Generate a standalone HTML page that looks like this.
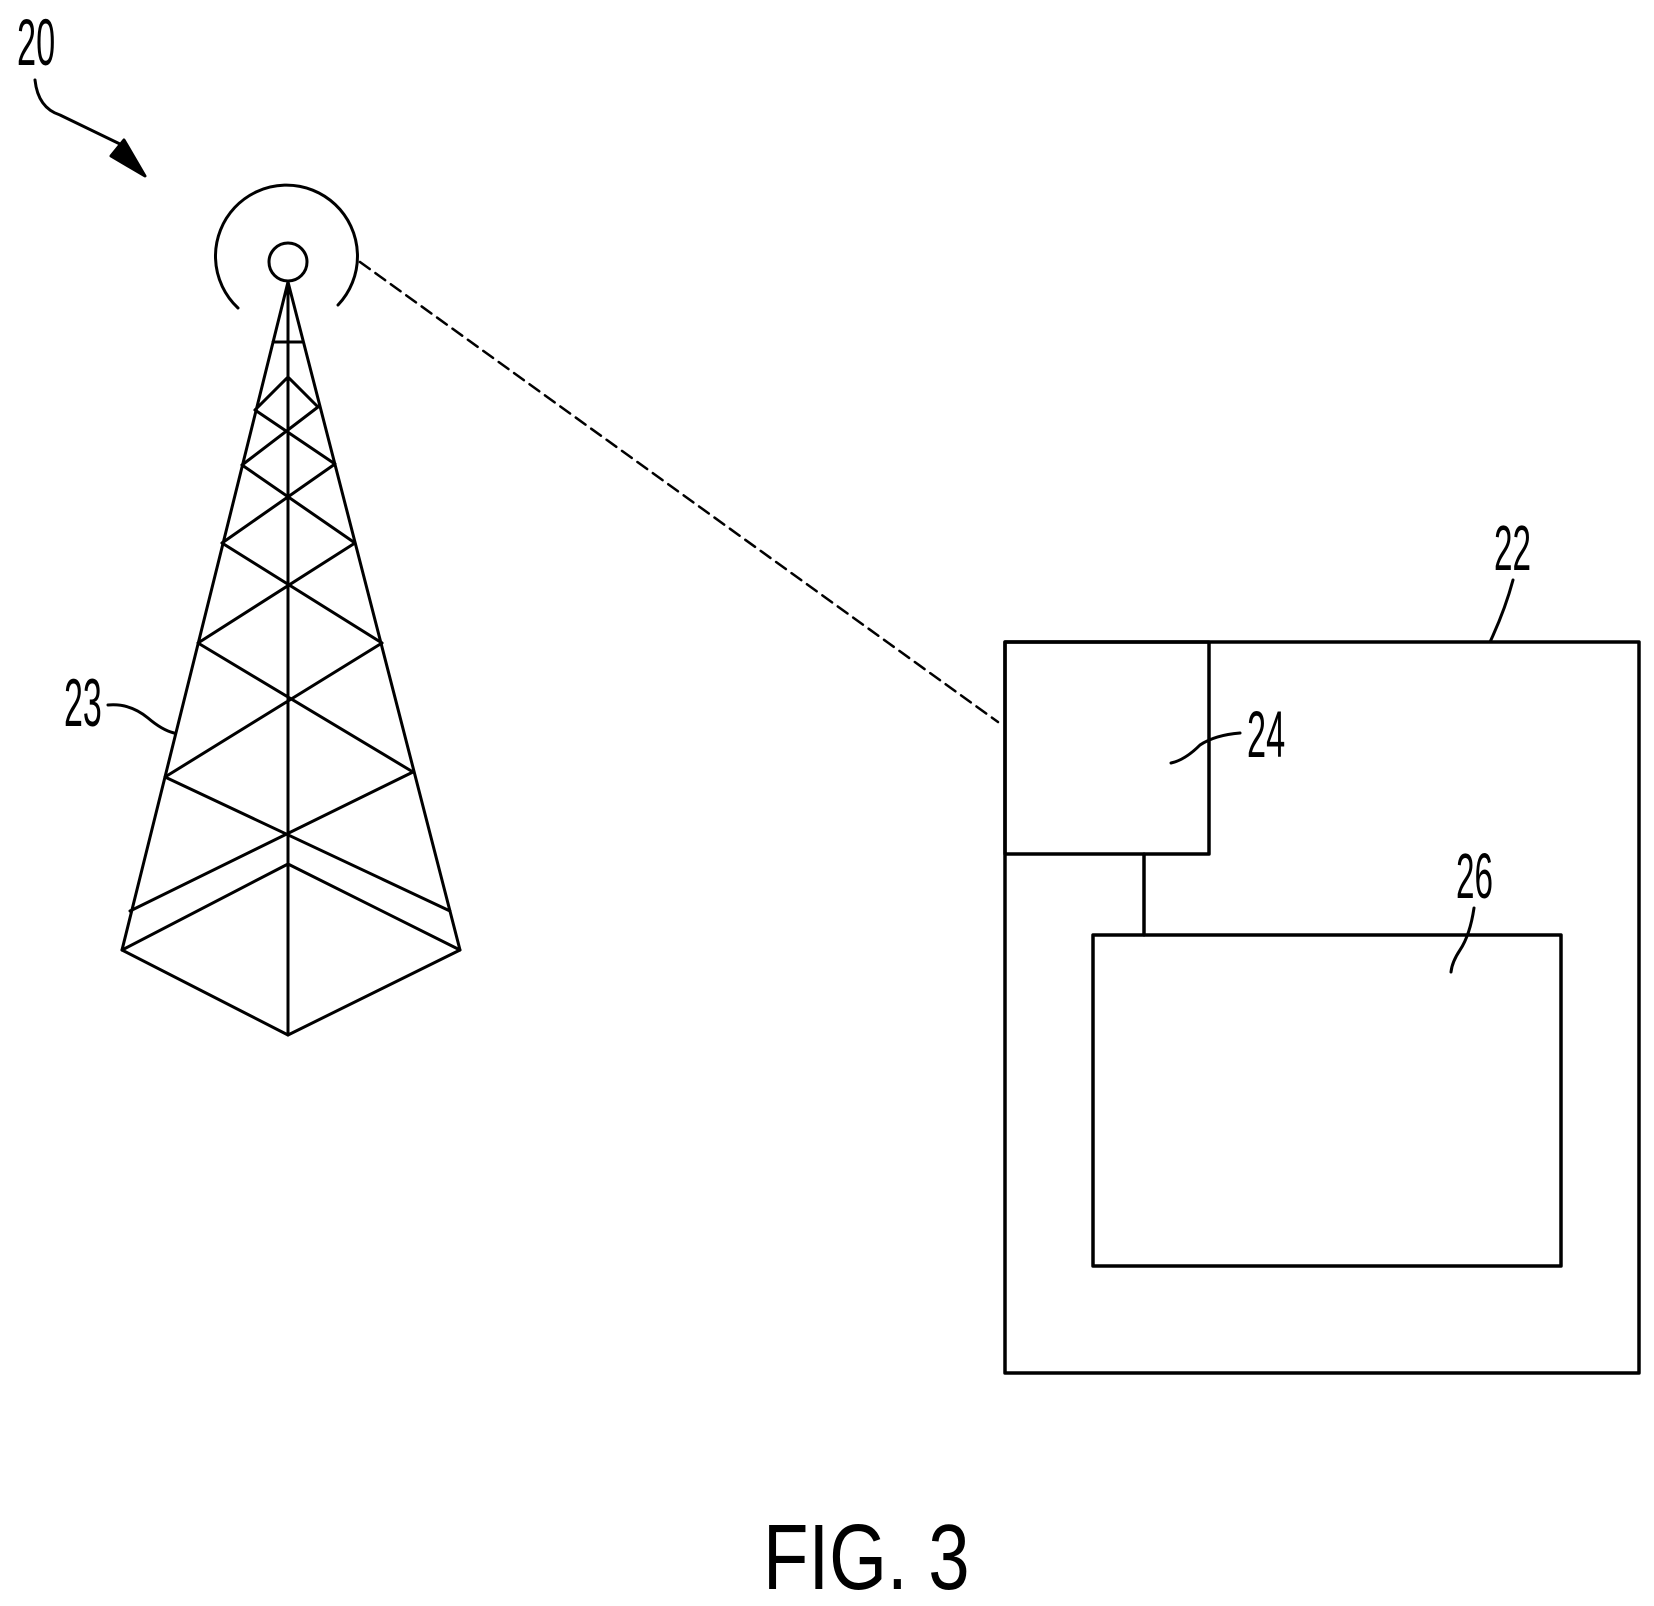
<!DOCTYPE html>
<html><head><style>
html,body{margin:0;padding:0;background:#fff;}
svg{display:block;}
text{font-family:"Liberation Sans",sans-serif;fill:#000;}
</style></head><body>
<svg width="1654" height="1606" viewBox="0 0 1654 1606" xmlns="http://www.w3.org/2000/svg">
<g fill="none" stroke="#000" stroke-width="3" stroke-linecap="round" stroke-linejoin="round">
<!-- 20 arrow -->
<path d="M35 80 Q38 108 60 115 L122 145"/>
<polygon points="145,176 111,156 124,140" fill="#000"/>
<!-- antenna -->
<path d="M238 308 A71 71 0 1 1 338 305"/>
<circle cx="288" cy="262" r="19"/>
<!-- tower -->
<line x1="288" y1="282" x2="122" y2="950"/>
<line x1="288" y1="282" x2="460" y2="950"/>
<line x1="288" y1="282" x2="288" y2="1035"/>
<line x1="122" y1="950" x2="288" y2="1035"/>
<line x1="460" y1="950" x2="288" y2="1035"/>
<line x1="122" y1="950" x2="288" y2="864"/>
<line x1="460" y1="950" x2="288" y2="864"/>
<line x1="273" y1="342" x2="302" y2="342"/>
<line x1="288" y1="377" x2="255" y2="410"/>
<line x1="288" y1="377" x2="318" y2="407"/>
<line x1="255" y1="410" x2="335" y2="464"/>
<line x1="318" y1="407" x2="242" y2="465"/>
<line x1="242" y1="465" x2="355" y2="543"/>
<line x1="335" y1="464" x2="222" y2="543"/>
<line x1="222" y1="543" x2="382" y2="643"/>
<line x1="355" y1="543" x2="198" y2="643"/>
<line x1="198" y1="643" x2="413" y2="772"/>
<line x1="382" y1="643" x2="165" y2="777"/>
<line x1="165" y1="777" x2="450" y2="911"/>
<line x1="413" y1="772" x2="130" y2="911"/>
<!-- label 23 leader -->
<path d="M108 705 Q130 703 148 718 Q162 730 174 733"/>
<!-- dashed link -->
<line x1="360" y1="262" x2="998" y2="722" stroke-dasharray="12,7" stroke-width="2.5"/>
<!-- boxes -->
<rect x="1005" y="642" width="634" height="731" stroke-width="3.5"/>
<rect x="1005" y="642" width="204" height="212" stroke-width="3.5"/>
<line x1="1144" y1="854" x2="1144" y2="935" stroke-width="3.5"/>
<rect x="1093" y="935" width="468" height="331" stroke-width="3.5"/>
<!-- leaders -->
<path d="M1513 580 Q1505 610 1490 642"/>
<path d="M1240 733 Q1215 735 1200 745 Q1185 760 1171 763"/>
<path d="M1474 908 Q1470 935 1460 950 Q1452 962 1451 972"/>
</g>
<g>
<text x="0" y="0" font-size="66" transform="translate(17,65) scale(0.52,1)">20</text>
<text x="0" y="0" font-size="68" transform="translate(64,726) scale(0.5,1)">23</text>
<text x="0" y="0" font-size="64" transform="translate(1494,570) scale(0.52,1)">22</text>
<text x="0" y="0" font-size="66" transform="translate(1247,757) scale(0.52,1)">24</text>
<text x="0" y="0" font-size="64" transform="translate(1456,898) scale(0.52,1)">26</text>
<text x="0" y="0" font-size="93" transform="translate(763,1589) scale(0.8,1)">FIG. 3</text>
</g>
</svg>
</body></html>
